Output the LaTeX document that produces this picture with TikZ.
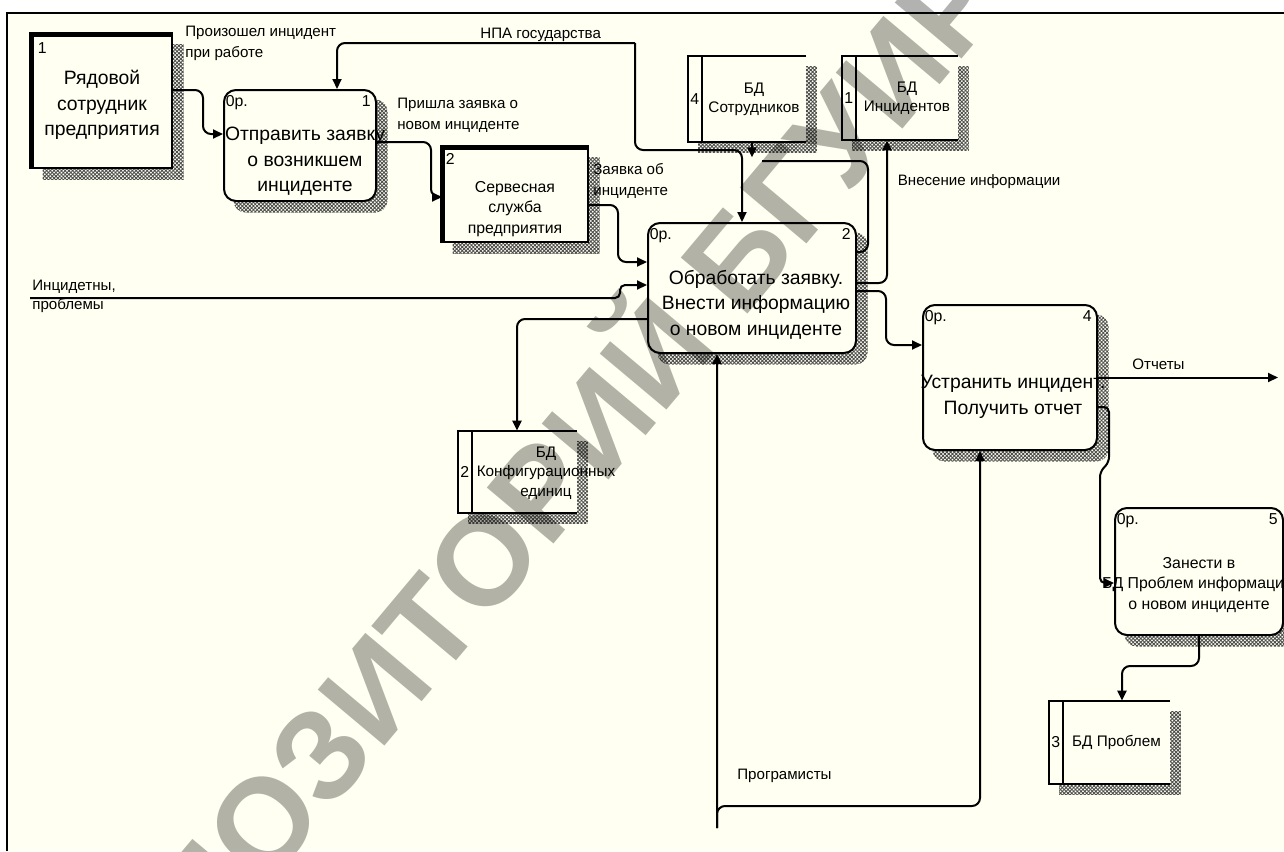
\documentclass[tikz,border=0pt]{standalone}
\usepackage{fontspec}
\setmainfont{Liberation Sans}
\usetikzlibrary{positioning,arrows.meta,backgrounds,patterns.meta}
\definecolor{cPaper}{HTML}{FFFFF2}
\definecolor{cMark}{HTML}{B2B2B0}

\begin{document}
\begin{tikzpicture}[x=2mm, y=-2mm,
  >={Triangle[length=2mm,width=1.8mm]},
  ent/.style={draw, line width=0.4mm, fill=cPaper, inner sep=0pt},
  proc/.style={ent, rounded corners=2.4mm},
  store/.style={fill=cPaper, inner sep=0pt, align=center,
                font=\fontsize{8.7}{11}\selectfont},
  big/.style={align=center, font=\fontsize{11}{14.5}\selectfont},
  mid/.style={align=center, font=\fontsize{9}{11.8}\selectfont},
  num/.style={inner sep=0.5mm, font=\fontsize{9}{10}\selectfont},
  lab/.style={align=left, inner sep=0.5mm, font=\fontsize{8.6}{12}\selectfont},
  flow/.style={->, line width=0.4mm, rounded corners=1.6mm},
  heavy/.style={line width=1mm},
  shade/.style={pattern={Hatch[angle=45,distance=1.5pt,line width=0.5pt]},
                pattern color=black!70},
]
  \useasboundingbox (0,0) rectangle (128.4,85.1);
  % external entities
  \node[ent, minimum width=27.8mm, minimum height=26.6mm] (e1) at (10.25,10.15) {};
  \node[ent, minimum width=29mm, minimum height=18.8mm] (e2) at (51.55,19.5) {};
  \draw[heavy] (e1.south west) -- (e1.north west) -- (e1.north east);
  \draw[heavy] (e2.south west) -- (e2.north west) -- (e2.north east);
  \node[num, anchor=north west] (e1-num) at ([shift={(0.6mm,-1.2mm)}]e1.north west) {1};
  \node[num, anchor=north west] (e2-num) at ([shift={(0.2mm,-0.8mm)}]e2.north west) {2};
  \node[big] (e1-txt) at (10.2,10.5) {Рядовой\\сотрудник\\предприятия};
  \node[mid] (e2-txt) at (51.5,20.9) {Сервесная\\служба\\предприятия};
  % processes
  \node[proc, minimum width=30.4mm, minimum height=22.2mm] (p1) at (30.0,14.55) {};
  \node[proc, minimum width=41.6mm, minimum height=26mm] (p2) at (75.2,28.8) {};
  \node[proc, minimum width=34.8mm, minimum height=29mm] (p4) at (101.0,37.75) {};
  \node[proc, minimum width=33.6mm, minimum height=25.4mm] (p5) at (119.9,57.15) {};
  \foreach \p/\k in {p1/1,p2/2,p4/4,p5/5} {
    \node[num, anchor=north west] (\p-cost) at ([yshift=-0.7mm]\p.north west) {0р.};
    \node[num, anchor=north east] (\p-num) at ([shift={(-0.7mm,-0.7mm)}]\p.north east) {\k};
  }
  \node[big] (p1-txt) at (30.5,16.15) {Отправить заявку\\о возникшем\\инциденте};
  \node[big] (p2-txt) at (75.6,30.45) {Обработать заявку.\\Внести информацию\\о новом инциденте};
  \node[big] (p4-txt) at (101.3,39.7) {Устранить инцидент.\\Получить отчет};
  \node[mid] (p5-txt) at (119.9,58.5) {Занести в\\БД Проблем информацию\\о новом инциденте};
  % data stores
  \node[store, minimum width=20.8mm, minimum height=17.2mm] (s4) at (75.4,9.9) {БД\\Сотрудников};
  \node[store, minimum width=20.4mm, minimum height=16.8mm] (s1) at (90.7,9.8) {БД\\Инцидентов};
  \node[store, minimum width=21mm, minimum height=16.4mm] (s2) at (52.45,47.2) {};
  \node[store, minimum width=21.4mm, minimum height=16.6mm] (s3) at (111.65,74.25) {БД Проблем};
  \foreach \s/\k in {s1/1,s2/2,s3/3,s4/4} {
    \fill[cPaper] ([xshift=-2.8mm]\s.south west) rectangle (\s.north west);
    \draw[line width=0.4mm] (\s.north east) -- ([xshift=-2.8mm]\s.north west)
      -- ([xshift=-2.8mm]\s.south west) -- (\s.south east);
    \draw[line width=0.4mm] (\s.north west) -- (\s.south west);
    \node[num] (\s-num) at ([xshift=-1.4mm]\s.west) {\k};
  }
  \node[store, fill=none] (s2-txt) at (54.6,47.3) {БД\\Конфигурационных\\единиц};
  % paper, frame and shadows
  \begin{scope}[on background layer]
    \fill[white] (0,0) rectangle (128.4,85.1);
    \fill[cPaper] (0.7,1.3) rectangle (128.4,85.1);
    \draw[line width=0.5mm] (0.7,85.1) -- (0.7,1.3) -- (128.4,1.3);
    \foreach \n in {e1,e2}
      \fill[shade] ([shift={(2.1mm,-2mm)}]\n.north west) rectangle ([shift={(2.1mm,-2mm)}]\n.south east);
    \foreach \n in {p1,p2,p4,p5}
      \fill[shade, rounded corners=2.4mm] ([shift={(2.1mm,-2.1mm)}]\n.north west) rectangle ([shift={(2.1mm,-2.1mm)}]\n.south east);
    \foreach \n in {s1,s2,s3,s4}
      \fill[shade] ([shift={(-0.7mm,-2.1mm)}]\n.north west) rectangle ([shift={(2.1mm,-2.1mm)}]\n.south east);
  \end{scope}
  % free ends
  \coordinate (npa) at (63.5,4.3);
  \coordinate (inc) at (3.0,29.8);
  \coordinate (prog) at (71.7,82.8);
  \coordinate (otch) at (127.8,37.75);
  \coordinate (sotr) at (76.2,16.1);
  % flows
  \draw[flow] ([yshift=2.3mm]e1.east) -- ++(6mm,0) |- ([yshift=2.3mm]p1.west);
  \draw[flow] (npa) -| ([xshift=7.4mm]p1.north);
  \draw[flow] (npa) -- (63.5,15.0) -| ([xshift=-2mm]p2.north);
  \draw[flow] ([yshift=0.7mm]p1.east) -- ++(10.8mm,0) |- ([yshift=-0.4mm]e2.west);
  \draw[flow] ([yshift=-2mm]e2.east) -- ++(5.8mm,0) |- ([yshift=5.2mm]p2.west);
  \draw[flow, rounded corners=1mm] (inc) -- (62.0,29.8) |- ([yshift=0.6mm]p2.west);
  \draw[flow] ([yshift=-6.2mm]p2.west) -| ([xshift=-1.5mm]s2.north);
  \draw[flow] ([yshift=1mm]p2.east) -| ([xshift=-4mm]s1.south);
  \draw[line width=0.4mm, rounded corners=1.6mm] ([yshift=7.2mm]p2.east) -| (86.8,16.1) -- (sotr);
  \draw[flow] ([xshift=-0.4mm]s4.south) -- ++(0,-3mm);
  \draw[flow] ([yshift=-0.6mm]p2.east) -- ++(5.8mm,0) |- ([yshift=6.5mm]p4.west);
  \draw[flow] (p4.east) -- (otch);
  \draw[flow, rounded corners=1mm] ([yshift=-5.9mm]p4.east) -- ++(2.2mm,0) -- ++(0,-11mm)
    -- ++(-1.8mm,-2mm) |- ([yshift=-2.3mm]p5.west);
  \draw[flow] (p5.south) -- ++(0,-6mm) -| ([xshift=1.1mm]s3.north);
  \draw[flow] (prog) -- ([xshift=-7mm]p2.south);
  \draw[flow] (prog) -- (71.7,80.6) -| ([xshift=-6mm]p4.south);
  % labels
  \node[lab, anchor=north west] (l-work) at (18.25,2.35) {Произошел инцидент\\при работе};
  \node[lab, anchor=north west] (l-new) at (39.45,9.55) {Пришла заявка о\\новом инциденте};
  \node[lab, anchor=north west] (l-req) at (59.05,16.05) {Заявка об\\инциденте};
  \node[lab, anchor=north west] (l-npa) at (47.75,2.55) {НПА государства};
  \node[lab, anchor=north west] (l-inc) at (2.95,27.75) {Инцидетны,};
  \node[lab, anchor=north west] (l-prob) at (2.95,29.55) {проблемы};
  \node[lab, anchor=west] (l-info) at (89.5,18.15) {Внесение информации};
  \node[lab, anchor=west] (l-rep) at (112.95,36.4) {Отчеты};
  \node[lab, anchor=west] (l-prog) at (73.45,77.6) {Програмисты};
  % watermark
  \begin{scope}[blend mode=multiply]
    \node[rotate=50, text=cMark, font=\fontsize{72}{72}\selectfont\bfseries] (wmark) at (51.1,50.8) {РЕПОЗИТОРИЙ БГУИР};
  \end{scope}
\end{tikzpicture}
\end{document}
